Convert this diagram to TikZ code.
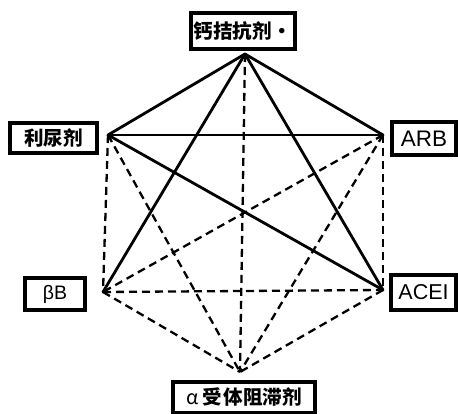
\documentclass[tikz,border=0pt]{standalone}
\usepackage{fontspec}
\setmainfont{Liberation Sans}
\newfontfamily\cjk{Noto Sans CJK SC}
\newfontfamily\lat{Liberation Sans}
\begin{document}
\begin{tikzpicture}[x=1pt,y=-1pt,
  box/.style={draw,line width=3.2pt,inner sep=0pt,anchor=center},
  cjktext/.style={font=\cjk\bfseries\fontsize{19.5}{22}\selectfont},
  lattext/.style={font=\lat\fontsize{22.5}{26}\selectfont},
  solidline/.style={line width=2.8pt,line cap=round},
  dashline/.style={line width=2.3pt,dash pattern=on 8pt off 5pt}]
\useasboundingbox (0,0) rectangle (458,414);
% boxes
\node[box,minimum width=104pt,minimum height=36pt,cjktext] (top) at (243,31) {钙拮抗剂\kern1pt·};
\node[box,minimum width=87pt,minimum height=30pt,cjktext] (diu) at (53.5,138) {利尿剂};
\node[box,minimum width=64pt,minimum height=33pt,lattext] (arb) at (424,138.5) {ARB};
\node[box,minimum width=60pt,minimum height=32pt,font=\lat\fontsize{19.5}{22}\selectfont] (bb) at (55,294) {βB};
\node[box,minimum width=65pt,minimum height=35pt,font=\lat\fontsize{21.5}{25}\selectfont] (acei) at (423.5,292.5) {ACEI};
\node[box,minimum width=142pt,minimum height=31pt,cjktext] (alpha) at (244,397.5) {{\mdseries α}\kern4pt 受\kern2pt 体阻滞剂};
% vertices
\coordinate (vT) at (245,54);
\coordinate (vL) at (108,135);
\coordinate (vR) at (383,135);
\coordinate (vBL) at (103,292);
\coordinate (vBR) at (383,290);
\coordinate (vB) at (240,372);
% solid connectors
\draw[solidline] (vT) -- (vL);
\draw[solidline] (vT) -- (vR);
\draw[solidline] (vL) -- (vR);
\draw[solidline] (vT) -- (vBL);
\draw[solidline] (vT) -- (vBR);
\draw[solidline] (vL) -- (vBR);
% dashed connectors
\draw[dashline] (vT) -- (vB);
\draw[dashline] (vL) -- (vBL);
\draw[dashline] (vL) -- (vB);
\draw[dashline] (vR) -- (vBR);
\draw[dashline] (vR) -- (vBL);
\draw[dashline] (vR) -- (vB);
\draw[dashline] (vBL) -- (vBR);
\draw[dashline] (vBL) -- (vB);
\draw[dashline] (vBR) -- (vB);
\end{tikzpicture}
\end{document}
